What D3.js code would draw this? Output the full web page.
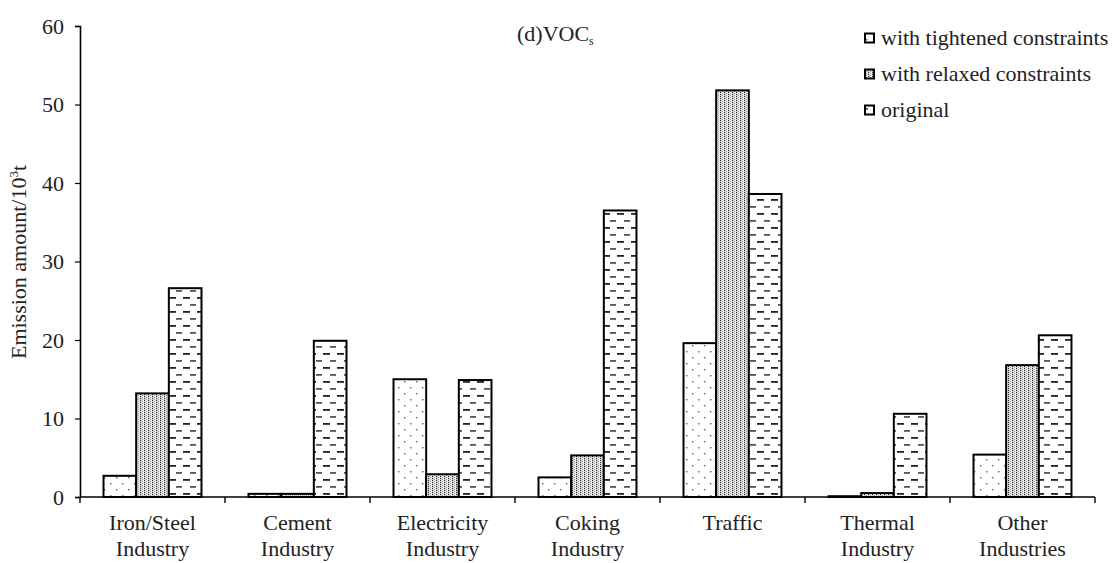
<!DOCTYPE html>
<html>
<head>
<meta charset="utf-8">
<script src="https://cdn.jsdelivr.net/npm/d3@7"></script>
<style>
  html, body { margin: 0; padding: 0; background: #fff; }
  svg { display: block; }
</style>
</head>
<body>
<svg id="chart" width="1116" height="563"></svg>
<script>
// Sector names (two-line labels) and VOCs emissions in 10^3 t
const categories = [
  ["Iron/Steel", "Industry"],
  ["Cement", "Industry"],
  ["Electricity", "Industry"],
  ["Coking", "Industry"],
  ["Traffic"],
  ["Thermal", "Industry"],
  ["Other", "Industries"]
];
const seriesNames = ["with tightened constraints", "with relaxed constraints", "original"];
const tightened = [2.7, 0.4, 15.0, 2.5, 19.6, 0.1, 5.4];
const relaxed   = [13.2, 0.4, 2.9, 5.3, 51.8, 0.5, 16.8];
const original  = [26.6, 19.9, 14.9, 36.5, 38.6, 10.6, 20.6];
const yTicks = [0, 10, 20, 30, 40, 50, 60];

const FONT = "'Liberation Serif', Tinos, 'Times New Roman', serif";
const FS = 22;
const series = [tightened, relaxed, original];
const svg = d3.select("#chart").attr("font-family", FONT);
const margin = { left: 80, right: 1095, top: 26, bottom: 497 };

// Fill patterns for the three series
const defs = svg.append("defs");
const pTight = defs.append("pattern").attr("id", "p0")
  .attr("patternUnits", "userSpaceOnUse").attr("width", 12).attr("height", 12);
pTight.append("rect").attr("width", 12).attr("height", 12).attr("fill", "#fff");
[[2, 3], [8, 9]].forEach(([x, y]) =>
  pTight.append("rect").attr("x", x).attr("y", y).attr("width", 1.4).attr("height", 1.4).attr("fill", "#666"));

const pRel = defs.append("pattern").attr("id", "p1")
  .attr("patternUnits", "userSpaceOnUse").attr("width", 4).attr("height", 4);
pRel.append("rect").attr("width", 4).attr("height", 4).attr("fill", "#eee");
[[0, 0], [0, 2]].forEach(([x, y]) =>
  pRel.append("rect").attr("x", x).attr("y", y).attr("width", 1.2).attr("height", 1.2).attr("fill", "#333"));
[[2, 1], [2, 3]].forEach(([x, y]) =>
  pRel.append("rect").attr("x", x).attr("y", y).attr("width", 1).attr("height", 1).attr("fill", "#999"));

const pOrig = defs.append("pattern").attr("id", "p2")
  .attr("patternUnits", "userSpaceOnUse").attr("width", 14).attr("height", 14);
pOrig.append("rect").attr("width", 14).attr("height", 14).attr("fill", "#fff");
pOrig.append("rect").attr("x", 1).attr("y", 3).attr("width", 7).attr("height", 1.8).attr("fill", "#222");
pOrig.append("rect").attr("x", 8).attr("y", 10).attr("width", 7).attr("height", 1.8).attr("fill", "#555");

// Scales
const x0 = d3.scaleBand().domain(d3.range(categories.length))
  .range([margin.left, margin.right]).paddingInner(0).paddingOuter(0);
const x1 = d3.scaleBand().domain(d3.range(series.length))
  .range([0, x0.bandwidth()]).paddingOuter(0.72).paddingInner(0);
const y = d3.scaleLinear().domain([0, 60]).range([margin.bottom, margin.top]);

// Bars
categories.forEach((c, i) => {
  series.forEach((s, j) => {
    svg.append("rect")
      .attr("x", x0(i) + x1(j))
      .attr("y", y(s[i]))
      .attr("width", x1.bandwidth())
      .attr("height", y(0) - y(s[i]))
      .attr("fill", `url(#p${j})`)
      .attr("stroke", "#000")
      .attr("stroke-width", 2);
  });
});

// Y axis
const yAxis = d3.axisLeft(y).tickValues(yTicks).tickSize(5).tickPadding(11);
const gy = svg.append("g").attr("transform", `translate(${margin.left},0)`).call(yAxis);
gy.attr("font-family", FONT);
gy.select(".domain").attr("stroke-width", 1.6);
gy.selectAll(".tick line").attr("stroke-width", 1.2);
gy.selectAll("text").attr("font-size", FS).attr("fill", "#222");

// X axis baseline with ticks at category boundaries
const bounds = d3.range(categories.length + 1).map(i => margin.left + i * x0.bandwidth());
svg.append("line").attr("x1", margin.left).attr("x2", margin.right)
  .attr("y1", y(0)).attr("y2", y(0)).attr("stroke", "#000").attr("stroke-width", 1.6);
bounds.forEach(b => svg.append("line").attr("x1", b).attr("x2", b)
  .attr("y1", y(0)).attr("y2", y(0) + 6).attr("stroke", "#000").attr("stroke-width", 1.4));

// Category labels
categories.forEach((c, i) => {
  const cx = x0(i) + x0.bandwidth() / 2;
  const t = svg.append("text").attr("x", cx).attr("y", 530)
    .attr("text-anchor", "middle").attr("font-size", FS).attr("fill", "#222");
  c.forEach((line, k) => t.append("tspan").attr("x", cx)
    .attr("dy", k === 0 ? 0 : 26).text(line));
});

// Y axis title
const yt = svg.append("text").attr("transform", "translate(26,262) rotate(-90)")
  .attr("text-anchor", "middle").attr("font-size", FS).attr("fill", "#222");
yt.append("tspan").text("Emission amount/10");
yt.append("tspan").attr("font-size", 13).attr("dy", -8).text("3");
yt.append("tspan").attr("dy", 8).text("t");

// Chart title
const tt = svg.append("text").attr("x", 517).attr("y", 41).attr("font-size", FS).attr("fill", "#222");
tt.append("tspan").text("(d)VOC");
tt.append("tspan").attr("font-size", 12).attr("dy", 4).text("s");

// Legend
const legend = svg.append("g");
seriesNames.forEach((name, j) => {
  const ly = 38 + j * 36;
  legend.append("rect").attr("x", 865).attr("y", ly - 4.5).attr("width", 9).attr("height", 9)
    .attr("fill", `url(#p${j})`).attr("stroke", "#000").attr("stroke-width", 2);
  legend.append("text").attr("x", 881).attr("y", ly + 7).attr("font-size", FS)
    .attr("fill", "#222").text(name);
});
</script>
</body>
</html>
